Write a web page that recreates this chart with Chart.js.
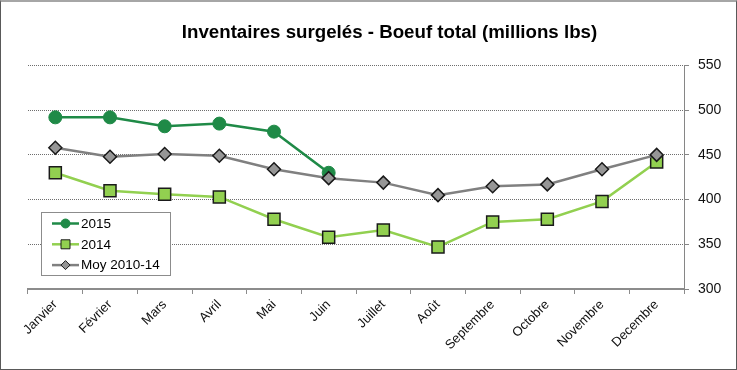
<!DOCTYPE html>
<html>
<head>
<meta charset="utf-8">
<script src="https://cdn.jsdelivr.net/npm/chart.js@4/dist/chart.umd.min.js"></script>
<style>
html,body{margin:0;padding:0;background:#fff;}
#wrap{position:relative;width:737px;height:370px;}
#frame{position:absolute;left:0;top:0;width:737px;height:370px;box-sizing:border-box;border:1px solid #595959;border-top:2px solid #a6a6a6;pointer-events:none;}
canvas{display:block;}
</style>
</head>
<body>
<div id="wrap">
<canvas id="c" width="737" height="370"></canvas>
<div id="frame"></div>
</div>
<script>
const months = ['Janvier','Février','Mars','Avril','Mai','Juin','Juillet','Août','Septembre','Octobre','Novembre','Decembre'];
const seriesNames = ['2015','2014','Moy 2010-14'];
const values2015 = [492, 492, 482, 485, 476, 430, null, null, null, null, null, null];
const values2014 = [430, 410, 406, 403, 378, 358, 366, 347, 375, 378, 398, 442];
const valuesMoy = [458, 448, 451, 449, 434, 424, 419, 405, 415, 417, 434, 450];
const yMin = 300, yMax = 550, yStep = 50;
const chartTitle = 'Inventaires surgelés - Boeuf total (millions lbs)';

const FONT = "'Liberation Sans', Arial, sans-serif";
const dark = '#1a1a1a';

const titlePlugin = {
  id: 'placedTitle',
  afterDraw(chart) {
    const ctx = chart.ctx;
    ctx.save();
    ctx.fillStyle = '#000';
    ctx.font = 'bold 18.7px ' + FONT;
    ctx.textAlign = 'center';
    ctx.textBaseline = 'middle';
    ctx.fillText(chartTitle, 389.5, 32.5);
    ctx.restore();
  }
};

const legendPlugin = {
  id: 'insideLegend',
  afterDraw(chart) {
    const ctx = chart.ctx;
    ctx.save();
    const bx = 41.5, by = 212.5, bw = 129, bh = 63;
    ctx.fillStyle = '#fff';
    ctx.strokeStyle = '#8c8c8c';
    ctx.lineWidth = 1;
    ctx.fillRect(bx, by, bw, bh);
    ctx.strokeRect(bx, by, bw, bh);
    chart.data.datasets.forEach((ds, i) => {
      const y = 223.5 + i * 20.8;
      ctx.strokeStyle = ds.borderColor;
      ctx.lineWidth = 2.5;
      ctx.beginPath(); ctx.moveTo(52, y); ctx.lineTo(79, y); ctx.stroke();
      const cx = 65.5;
      ctx.fillStyle = ds.pointBackgroundColor;
      ctx.strokeStyle = ds.pointBorderColor;
      ctx.lineWidth = 1;
      ctx.beginPath();
      if (ds.pointStyle === 'circle') {
        ctx.arc(cx, y, 4.5, 0, Math.PI * 2);
      } else if (ds.pointStyle === 'rect') {
        ctx.rect(cx - 4.5, y - 4.5, 9, 9);
      } else {
        ctx.moveTo(cx, y - 4.5); ctx.lineTo(cx + 4.5, y); ctx.lineTo(cx, y + 4.5); ctx.lineTo(cx - 4.5, y); ctx.closePath();
      }
      ctx.fill();
      ctx.stroke();
      ctx.fillStyle = '#000';
      ctx.font = '13.5px ' + FONT;
      ctx.textAlign = 'left';
      ctx.textBaseline = 'middle';
      ctx.fillText(ds.label, 81, y + 0.5);
    });
    ctx.restore();
  }
};

new Chart(document.getElementById('c'), {
  type: 'line',
  data: {
    labels: months,
    datasets: [
      {
        label: seriesNames[0], data: values2015, order: 1,
        borderColor: '#1f8a47', borderWidth: 2.5,
        pointStyle: 'circle', pointRadius: 6.5,
        pointBackgroundColor: '#1f8a47', pointBorderColor: '#1f8a47', pointBorderWidth: 1
      },
      {
        label: seriesNames[1], data: values2014, order: 2,
        borderColor: '#92d050', borderWidth: 2.5,
        pointStyle: 'rect', pointRadius: 8.5,
        pointBackgroundColor: '#92d050', pointBorderColor: dark, pointBorderWidth: 1.5
      },
      {
        label: seriesNames[2], data: valuesMoy, order: 0,
        borderColor: '#808080', borderWidth: 2.5,
        pointStyle: 'rectRot', pointRadius: 6.5,
        pointBackgroundColor: '#969696', pointBorderColor: dark, pointBorderWidth: 1.5
      }
    ]
  },
  options: {
    responsive: false,
    animation: false,
    devicePixelRatio: 1,
    layout: { padding: { left: 28, right: 0, top: 65.5, bottom: 0 } },
    plugins: {
      legend: { display: false },
      tooltip: { enabled: false },
      title: { display: false }
    },
    scales: {
      x: {
        offset: true,
        grid: { display: true, drawOnChartArea: false, drawTicks: true, tickLength: 5, offset: true, tickColor: '#8c8c8c', color: '#8c8c8c' },
        border: { display: true, color: '#8c8c8c', width: 2 },
        ticks: { minRotation: 45, maxRotation: 45, padding: 3, color: '#111', font: { family: FONT, size: 13 } },
        afterFit(scale) { scale.height = 81; }
      },
      y: {
        position: 'right',
        min: yMin, max: yMax,
        grid: { color: '#6e6e6e', lineWidth: 1, drawTicks: true, tickLength: 5, tickColor: '#868686' },
        border: { display: true, color: '#868686', width: 1, dash: [1, 1] },
        ticks: { stepSize: yStep, padding: 9, color: '#111', font: { family: FONT, size: 14 } },
        afterFit(scale) { scale.width = 53; }
      }
    }
  },
  plugins: [legendPlugin, titlePlugin]
});
</script>
</body>
</html>
